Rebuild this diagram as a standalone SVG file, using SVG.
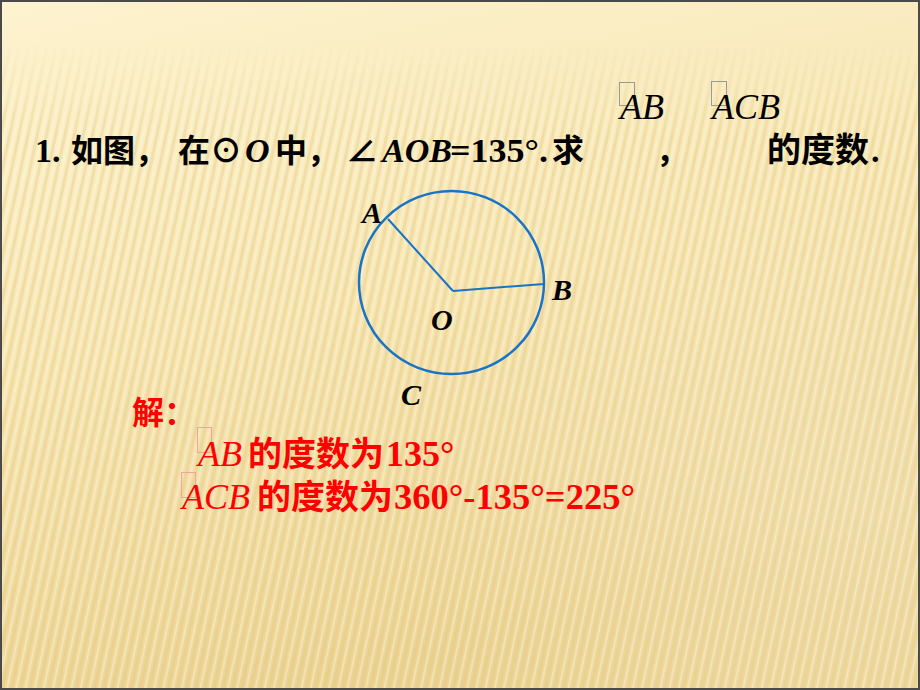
<svg xmlns="http://www.w3.org/2000/svg" width="920" height="690" viewBox="0 0 920 690">
<defs>
<linearGradient id="bg" x1="0" y1="0" x2="0.3" y2="1">
<stop offset="0" stop-color="#fdf3cf"/>
<stop offset="0.5" stop-color="#f7e6b4"/>
<stop offset="1" stop-color="#ecd495"/>
</linearGradient>
<pattern id="stripes" width="9" height="40" patternUnits="userSpaceOnUse" patternTransform="rotate(12)">
<rect x="0" y="0" width="3" height="40" fill="#e2c57c" opacity="0.35"/>
<rect x="5" y="0" width="2" height="40" fill="#fffbe8" opacity="0.35"/>
</pattern>
<linearGradient id="fadeMask" x1="0" y1="0" x2="0" y2="1">
<stop offset="0" stop-color="#fff" stop-opacity="0"/>
<stop offset="0.06" stop-color="#fff" stop-opacity="0"/>
<stop offset="0.2" stop-color="#fff" stop-opacity="1"/>
<stop offset="1" stop-color="#fff" stop-opacity="1"/>
</linearGradient>
<mask id="m"><rect width="920" height="690" fill="url(#fadeMask)"/></mask>
<linearGradient id="orange" x1="0" y1="0" x2="1" y2="0">
<stop offset="0" stop-color="#f0a030" stop-opacity="0"/>
<stop offset="0.15" stop-color="#f0a030" stop-opacity="0.7"/>
<stop offset="1" stop-color="#eea23a" stop-opacity="1"/>
</linearGradient>
<radialGradient id="glow" cx="0.95" cy="0.75" r="0.5">
<stop offset="0" stop-color="#fff" stop-opacity="0.18"/>
<stop offset="1" stop-color="#fff" stop-opacity="0"/>
</radialGradient>
<style>
.t{font-family:"Liberation Serif","Noto Sans CJK SC",serif;font-weight:bold;font-size:34px;fill:#000}
.cjk{font-family:"Noto Sans CJK SC","Liberation Serif",sans-serif;font-weight:bold}
.c32{font-size:32px}
.num{font-family:"Liberation Serif","Noto Sans CJK SC",serif;font-weight:bold}
.it{font-family:"Liberation Serif",serif;font-style:italic;font-weight:normal}
.bi{font-family:"Liberation Serif",serif;font-style:italic;font-weight:bold}
.red{fill:#ff0000}
.box{fill:none;stroke:#9a9a9a;stroke-width:1}
.rbox{fill:none;stroke:#f8a0a0;stroke-width:1}
.lbl{font-family:"Liberation Serif",serif;font-style:italic;font-weight:bold;font-size:30px;fill:#000}
</style>
</defs>
<rect width="920" height="690" fill="url(#bg)"/>
<rect width="920" height="690" fill="url(#stripes)" mask="url(#m)"/>
<rect width="920" height="690" fill="url(#glow)"/>
<line x1="40" y1="538" x2="920" y2="538" stroke="url(#orange)" stroke-width="3"/>
<rect x="1" y="1" width="918" height="688" fill="none" stroke="#4a4a4a" stroke-width="2"/>

<g id="question">
<text class="t" y="162"><tspan x="35">1.</tspan><tspan class="cjk c32" x="71">如图，</tspan><tspan class="cjk c32" x="178">在⊙</tspan><tspan class="bi" x="245">O</tspan><tspan class="cjk c32" x="275">中，</tspan><tspan class="cjk c32" x="346">∠</tspan><tspan class="bi" x="382">AOB</tspan><tspan x="450" textLength="98" lengthAdjust="spacingAndGlyphs">=135°.</tspan><tspan class="cjk c32" x="552">求</tspan><tspan class="cjk c32" x="656">，</tspan><tspan class="cjk" x="767">的度数</tspan><tspan x="871">.</tspan></text>
</g>

<g id="arc-labels">
<rect class="box" x="619.5" y="82.5" width="15" height="23"/>
<text class="it" x="620" y="119" font-size="36">AB</text>
<rect class="box" x="711.5" y="81.5" width="15" height="24"/>
<text class="it" x="712" y="119" font-size="36">ACB</text>
</g>

<g id="circle">
<ellipse cx="451.5" cy="282.5" rx="92.5" ry="91.5" fill="none" stroke="#1874c6" stroke-width="2.5"/>
</g>
<g id="connectors">
<line x1="388" y1="219" x2="453" y2="291" stroke="#1874c6" stroke-width="2"/>
<line x1="453" y1="291" x2="544" y2="284" stroke="#1874c6" stroke-width="2"/>
</g>
<g id="point-labels">
<text class="lbl" x="362" y="223">A</text>
<text class="lbl" x="552" y="300">B</text>
<text class="lbl" x="431" y="330">O</text>
<text class="lbl" x="401" y="405">C</text>
</g>

<g id="solution">
<text class="cjk red" x="132" y="424" font-size="32">解：</text>
<rect class="rbox" x="197.5" y="427.5" width="14" height="25"/>
<text class="it red" x="198" y="466" font-size="36">AB</text>
<text class="red" y="466" font-size="34"><tspan class="cjk" x="248">的度数为</tspan><tspan class="num" x="386" font-size="36">135°</tspan></text>
<rect class="rbox" x="181.5" y="472.5" width="14" height="25"/>
<text class="it red" x="182" y="509" font-size="36">ACB</text>
<text class="red" y="509" font-size="34"><tspan class="cjk" x="257">的度数为</tspan><tspan class="num" x="394" font-size="36" textLength="241" lengthAdjust="spacingAndGlyphs">360°-135°=225°</tspan></text>
</g>
</svg>
